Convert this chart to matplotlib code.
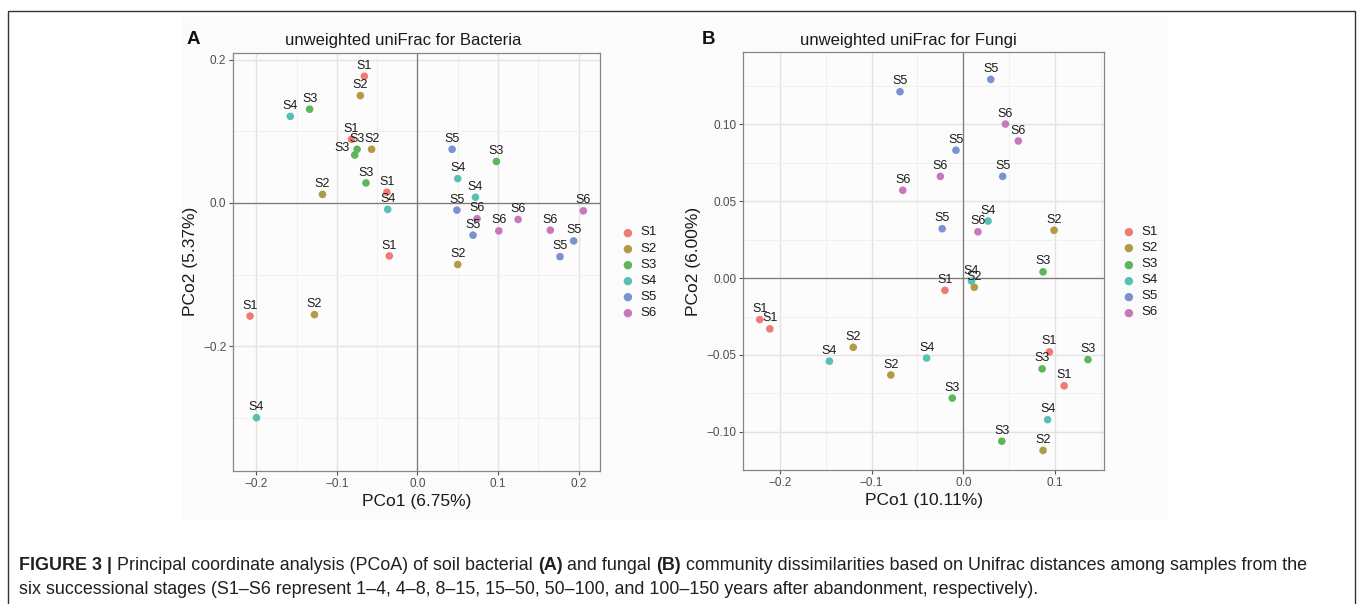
import numpy as np
from matplotlib import pyplot as plt
from matplotlib.patches import Rectangle
from matplotlib.ticker import MultipleLocator

plt.rcParams['font.family'] = ['Liberation Sans', 'DejaVu Sans']

# stage labels and colours
stages = ["S1", "S2", "S3", "S4", "S5", "S6"]
stage_colors = ["#EF7C74", "#B39A45", "#5DB75A", "#57C0B3", "#7A93D0", "#C977BC"]

# bacteria PCoA (panel A)
bac_group = ["S1", "S1", "S1", "S1", "S1",
             "S2", "S2", "S2", "S2", "S2",
             "S3", "S3", "S3", "S3", "S3",
             "S4", "S4", "S4", "S4", "S4",
             "S5", "S5", "S5", "S5", "S5",
             "S6", "S6", "S6", "S6", "S6"]
bac_pc1 = [-0.066, -0.082, -0.038, -0.035, -0.208,
           -0.071, -0.057, -0.118, -0.128, 0.050,
           -0.134, -0.075, -0.078, -0.064, 0.098,
           -0.158, -0.037, -0.200, 0.050, 0.072,
           0.043, 0.049, 0.069, 0.177, 0.194,
           0.074, 0.101, 0.125, 0.165, 0.206]
bac_pc2 = [0.177, 0.089, 0.015, -0.074, -0.158,
           0.150, 0.075, 0.012, -0.156, -0.086,
           0.131, 0.075, 0.067, 0.028, 0.058,
           0.121, -0.009, -0.300, 0.034, 0.008,
           0.075, -0.010, -0.045, -0.075, -0.053,
           -0.022, -0.039, -0.023, -0.038, -0.011]

# fungi PCoA (panel B)
fun_group = bac_group
fun_pc1 = [-0.020, -0.222, -0.211, 0.094, 0.110,
           0.099, 0.012, -0.120, -0.079, 0.087,
           0.087, -0.012, 0.136, 0.086, 0.042,
           0.027, 0.009, -0.146, -0.040, 0.092,
           -0.069, 0.030, -0.008, -0.023, 0.043,
           -0.025, -0.066, 0.016, 0.046, 0.060]
fun_pc2 = [-0.008, -0.027, -0.033, -0.048, -0.070,
           0.031, -0.006, -0.045, -0.063, -0.112,
           0.004, -0.078, -0.053, -0.059, -0.106,
           0.037, -0.002, -0.054, -0.052, -0.092,
           0.121, 0.129, 0.083, 0.032, 0.066,
           0.066, 0.057, 0.030, 0.100, 0.089]

W, H = 1357, 604
fig = plt.figure(figsize=(W / 100, H / 100), dpi=100)

def px(x0, y0, x1, y1):
    # pixel box (top-left origin) -> figure fraction rect
    return [x0 / W, 1 - y1 / H, (x1 - x0) / W, (y1 - y0) / H]

# outer frame of the figure page
fig.patches.append(Rectangle((8 / W, -0.02), (1355 - 8) / W, 1.02 - 11 / H,
                             transform=fig.transFigure, fill=False,
                             edgecolor="#333333", linewidth=1.0))
fig.patches.append(Rectangle((183 / W, 1 - 520 / H), (1168 - 183) / W, (520 - 16) / H,
                             transform=fig.transFigure, facecolor="#FBFBFB",
                             edgecolor="none", zorder=-5))


def pcoa_panel(rect, pc1, pc2, group, xlim, ylim, xmaj, ymaj, xlab, ylab, nudge):
    ax = fig.add_axes(rect)
    ax.set_facecolor("#FCFCFC")
    ax.set_xlim(*xlim)
    ax.set_ylim(*ylim)
    ax.xaxis.set_major_locator(MultipleLocator(xmaj))
    ax.yaxis.set_major_locator(MultipleLocator(ymaj))
    ax.xaxis.set_minor_locator(MultipleLocator(xmaj / 2))
    ax.yaxis.set_minor_locator(MultipleLocator(ymaj / 2))
    ax.grid(which="major", color="#E6E2E2", linewidth=1.0)
    ax.grid(which="minor", color="#F0EEEE", linewidth=0.6)
    ax.set_axisbelow(True)
    ax.tick_params(which="minor", length=0)
    ax.tick_params(which="major", length=3, width=0.8, color="#555555",
                   labelsize=8.5, labelcolor="#4D4D4D", pad=2)
    for sp in ax.spines.values():
        sp.set_color("#8A8585")
        sp.set_linewidth(0.9)
    ax.axhline(0, color="#7F7A7A", linewidth=0.9, zorder=1)
    ax.axvline(0, color="#7F7A7A", linewidth=0.9, zorder=1)
    cmap = dict(zip(stages, stage_colors))
    for i, (x, y, g) in enumerate(zip(pc1, pc2, group)):
        ax.scatter(x, y, s=30, color=cmap[g], edgecolor="none", zorder=3)
        off = nudge.get(i, (0, 7.5))
        ax.annotate(g, (x, y), xytext=off, textcoords="offset points",
                    ha="center", va="center", fontsize=9, color="#1A1A1A", zorder=4)
    ax.set_xlabel(xlab, fontsize=12.5, color="#1A1A1A", labelpad=3)
    ax.set_ylabel(ylab, fontsize=12.5, color="#1A1A1A", labelpad=4)
    return ax


axA = pcoa_panel(px(233.3, 53, 600, 470.7), bac_pc1, bac_pc2, bac_group,
                 (-0.2288, 0.2267), (-0.374, 0.2095), 0.1, 0.2,
                 "PCo1 (6.75%)", "PCo2 (5.37%)", {12: (-9, 5)})
axA.yaxis.set_minor_locator(MultipleLocator(0.1))
axA.xaxis.set_minor_locator(MultipleLocator(0.05))

axB = pcoa_panel(px(743.3, 52.3, 1104.3, 469.7), fun_pc1, fun_pc2, fun_group,
                 (-0.2399, 0.1538), (-0.1245, 0.1466), 0.1, 0.05,
                 "PCo1 (10.11%)", "PCo2 (6.00%)", {})
axB.yaxis.set_minor_locator(MultipleLocator(0.025))
axB.yaxis.set_major_formatter(plt.FuncFormatter(lambda v, p: f"{v:.2f}".replace("-", "\u2212")))

# titles and panel letters
fig.text(403 / W, 1 - 40 / H, "unweighted uniFrac for Bacteria", ha="center", va="center",
         fontsize=12, color="#1A1A1A")
fig.text(908 / W, 1 - 40 / H, "unweighted uniFrac for Fungi", ha="center", va="center",
         fontsize=12, color="#1A1A1A")
fig.text(187 / W, 1 - 39 / H, "A", ha="left", va="center", fontsize=13.5,
         fontweight="bold", color="#111111")
fig.text(702 / W, 1 - 39 / H, "B", ha="left", va="center", fontsize=13.5,
         fontweight="bold", color="#111111")

# legends
for lx, ly in [(627, 232.5), (1128.5, 232)]:
    for k, (st, col) in enumerate(zip(stages, stage_colors)):
        yy = 1 - (ly + k * 16.1) / H
        fig.text(lx / W, yy, "\u25CF", ha="center", va="center", fontsize=8, color=col,
                 family="DejaVu Sans")
        fig.text((lx + 13) / W, yy, st, ha="left", va="center", fontsize=9.5, color="#1A1A1A")

# caption with bold parts
cap_lines = [
    [("FIGURE 3 |", "bold"), (" Principal coordinate analysis (PCoA) of soil bacterial ", "normal"),
     ("(A)", "bold"), (" and fungal ", "normal"), ("(B)", "bold"),
     (" community dissimilarities based on Unifrac distances among samples from the", "normal")],
    [("six successional stages (S1\u2013S6 represent 1\u20134, 4\u20138, 8\u201315, 15\u201350, 50\u2013100, "
      "and 100\u2013150 years after abandonment, respectively).", "normal")],
]
fig.canvas.draw()
renderer = fig.canvas.get_renderer()
for line, ycap in zip(cap_lines, [565, 590]):
    xcur = 19
    for txt, wt in line:
        t = fig.text(xcur / W, 1 - ycap / H, txt, ha="left", va="center", fontsize=12.9,
                     fontweight=wt, color="#231F20")
        bb = t.get_window_extent(renderer=renderer)
        xcur += bb.width

fig.savefig("out.png", dpi=100)
